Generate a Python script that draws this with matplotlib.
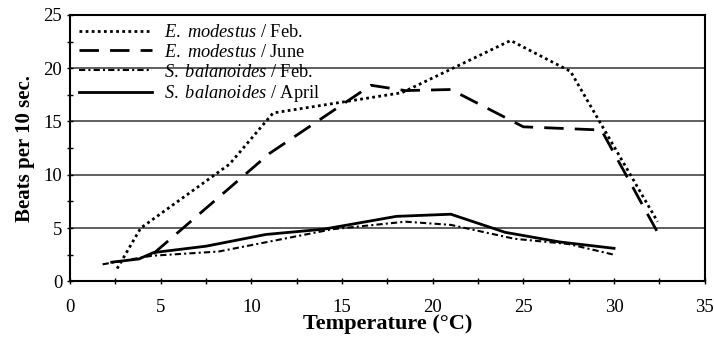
import matplotlib
matplotlib.use("Agg")
import matplotlib.pyplot as plt

plt.rcParams['font.family'] = ['Liberation Serif', 'DejaVu Serif']
plt.rcParams['mathtext.fontset'] = 'custom'
plt.rcParams['mathtext.it'] = 'Liberation Serif:italic'
plt.rcParams['mathtext.rm'] = 'Liberation Serif'

# E. modestus / Feb.
em_feb_t = [2.6, 3.9, 8.8, 11.2, 18.3, 24.3, 27.6, 32.4]
em_feb_v = [1.2, 5.0, 11.0, 15.8, 17.7, 22.6, 19.7, 5.6]

# E. modestus / June
em_jun_t = [4.6, 11.0, 16.6, 18.5, 21.0, 25.0, 29.3, 32.4]
em_jun_v = [2.6, 12.0, 18.4, 17.9, 18.0, 14.5, 14.2, 4.6]

# S. balanoides / Feb.
sb_feb_t = [1.8, 4.5, 8.2, 14.5, 18.5, 21.0, 24.5, 27.5, 30.0]
sb_feb_v = [1.6, 2.4, 2.8, 4.9, 5.6, 5.3, 4.0, 3.5, 2.5]

# S. balanoides / April
sb_apr_t = [2.3, 3.8, 4.6, 7.5, 10.8, 14.0, 18.0, 21.0, 24.0, 27.0, 30.0]
sb_apr_v = [1.8, 2.1, 2.7, 3.3, 4.4, 4.9, 6.1, 6.3, 4.6, 3.7, 3.1]

labels = [r'$\it{E.\ modestus}$ / Feb.',
          r'$\it{E.\ modestus}$ / June',
          r'$\it{S.\ balanoides}$ / Feb.',
          r'$\it{S.\ balanoides}$ / April']

fig = plt.figure(figsize=(7.14, 3.39), dpi=100)
ax = fig.add_axes([0.098, 0.170, 0.889, 0.786])

for y in [5, 10, 15, 20]:
    ax.axhline(y, color='#333333', lw=1.1, zorder=1)

ax.plot(em_feb_t, em_feb_v, color='black', lw=2, linestyle=(0, (1, 1.2)), label=labels[0])
ax.plot(em_jun_t, em_jun_v, color='black', lw=2, linestyle=(0, (7, 4)), label=labels[1])
ax.plot(sb_feb_t, sb_feb_v, color='black', lw=1.5, linestyle=(0, (3, 1.5, 1, 1.5)), label=labels[2])
ax.plot(sb_apr_t, sb_apr_v, color='black', lw=2, linestyle='-', label=labels[3])

ax.set_xlim(0, 35)
ax.set_ylim(0, 25)
ax.set_xticks(range(0, 36, 5))
ax.set_yticks(range(0, 26, 5))
ax.set_xticks([i * 2.5 for i in range(15)], minor=True)
ax.set_yticks([i * 2.5 for i in range(11)], minor=True)
ax.tick_params(which='both', direction='inout', length=5, width=1, labelsize=13.5)
ax.tick_params(axis='x', which='major', pad=10)
ax.tick_params(axis='y', which='major', pad=3)
for s in ax.spines.values():
    s.set_linewidth(1.5)

ax.set_xlabel('Temperature (°C)', fontsize=16, fontweight='bold', labelpad=-1)
ax.set_ylabel('Beats per 10 sec.', fontsize=15, fontweight='bold', labelpad=6)

ax.legend(loc='upper left', frameon=False, fontsize=13.2, handlelength=4.0,
          labelspacing=0.15, borderaxespad=0.2, handletextpad=0.65,
          borderpad=0.3)

fig.savefig('out.png', dpi=100)
